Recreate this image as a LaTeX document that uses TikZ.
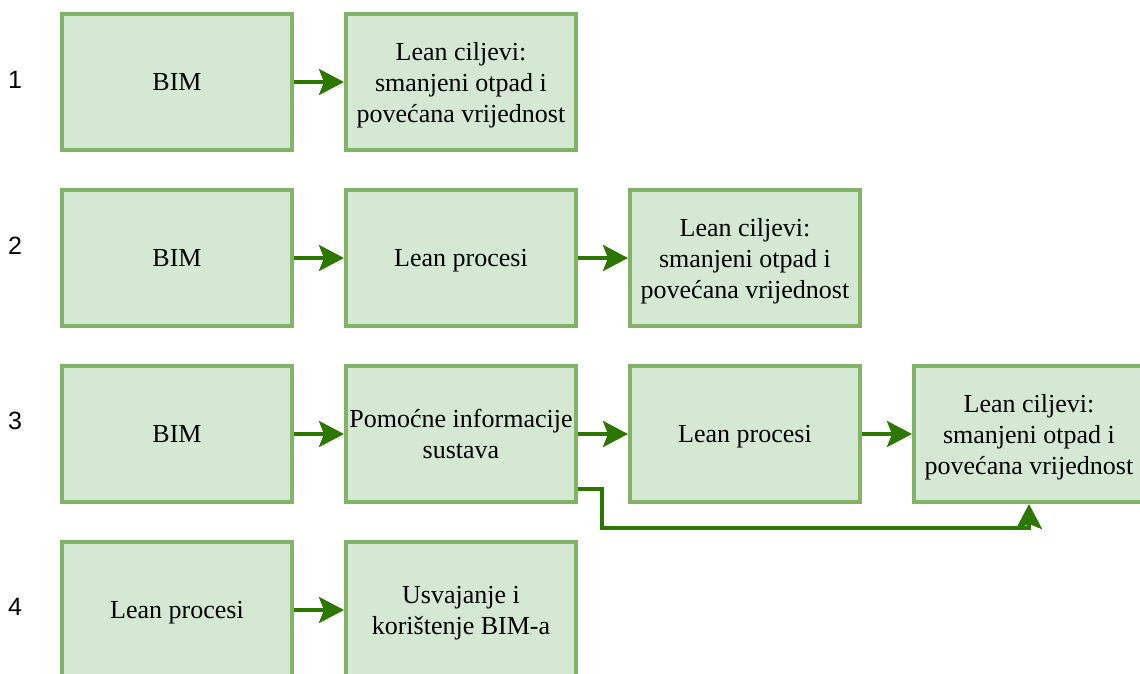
\documentclass[tikz,border=0pt]{standalone}
\usepackage{fontspec}
\setmainfont{Liberation Serif}
\newfontfamily\numfont{Liberation Sans}
\usetikzlibrary{arrows.meta,calc}
\definecolor{boxfill}{HTML}{D5E8D4}
\definecolor{boxline}{HTML}{82B366}
\definecolor{arrcol}{HTML}{2D7600}
\tikzset{
  stepbox/.style={draw=boxline, fill=boxfill, line width=4pt, minimum width=230pt, minimum height=136pt,
    inner sep=0pt, align=center, text depth=0pt, font=\fontsize{26}{31}\selectfont},
  arr/.style={draw=arrcol, line width=4pt, -{Stealth[length=25pt,width=26pt,inset=5pt]}},
  rownum/.style={font=\numfont\fontsize{25}{30}\selectfont, anchor=center}
}
\begin{document}
\begin{tikzpicture}[x=1pt,y=1pt]
\useasboundingbox (0,0) rectangle (1140,-673);
% row labels
\node[rownum] (n1) at (15,-80) {1};
\node[rownum] (n2) at (15,-246) {2};
\node[rownum] (n3) at (15,-421) {3};
\node[rownum] (n4) at (15,-607) {4};
% row 1
\node[stepbox] (a1) at (177,-82) {BIM};
\node[stepbox] (b1) at (461,-82) {Lean ciljevi:\\smanjeni otpad i\\povećana vrijednost};
% row 2
\node[stepbox] (a2) at (177,-258) {BIM};
\node[stepbox] (b2) at (461,-258) {Lean procesi};
\node[stepbox] (c2) at (745,-258) {Lean ciljevi:\\smanjeni otpad i\\povećana vrijednost};
% row 3
\node[stepbox] (a3) at (177,-434) {BIM};
\node[stepbox] (b3) at (461,-434) {Pomoćne informacije\\sustava};
\node[stepbox] (c3) at (745,-434) {Lean procesi};
\node[stepbox] (d3) at (1029,-434) {Lean ciljevi:\\smanjeni otpad i\\povećana vrijednost};
% row 4
\node[stepbox] (a4) at (177,-610) {Lean procesi};
\node[stepbox] (b4) at (461,-610) {Usvajanje i\\korištenje BIM-a};
% arrows
\draw[arr] (a1) -- (b1);
\draw[arr] (a2) -- (b2);
\draw[arr] (b2) -- (c2);
\draw[arr] (a3) -- (b3);
\draw[arr] (b3) -- (c3);
\draw[arr] (c3) -- (d3);
\draw[arr] (a4) -- (b4);
\coordinate (bend) at (602,-528);
\draw[arr] ([yshift=15pt]b3.south east) -| (bend) -| (d3.south);
\end{tikzpicture}
\end{document}
